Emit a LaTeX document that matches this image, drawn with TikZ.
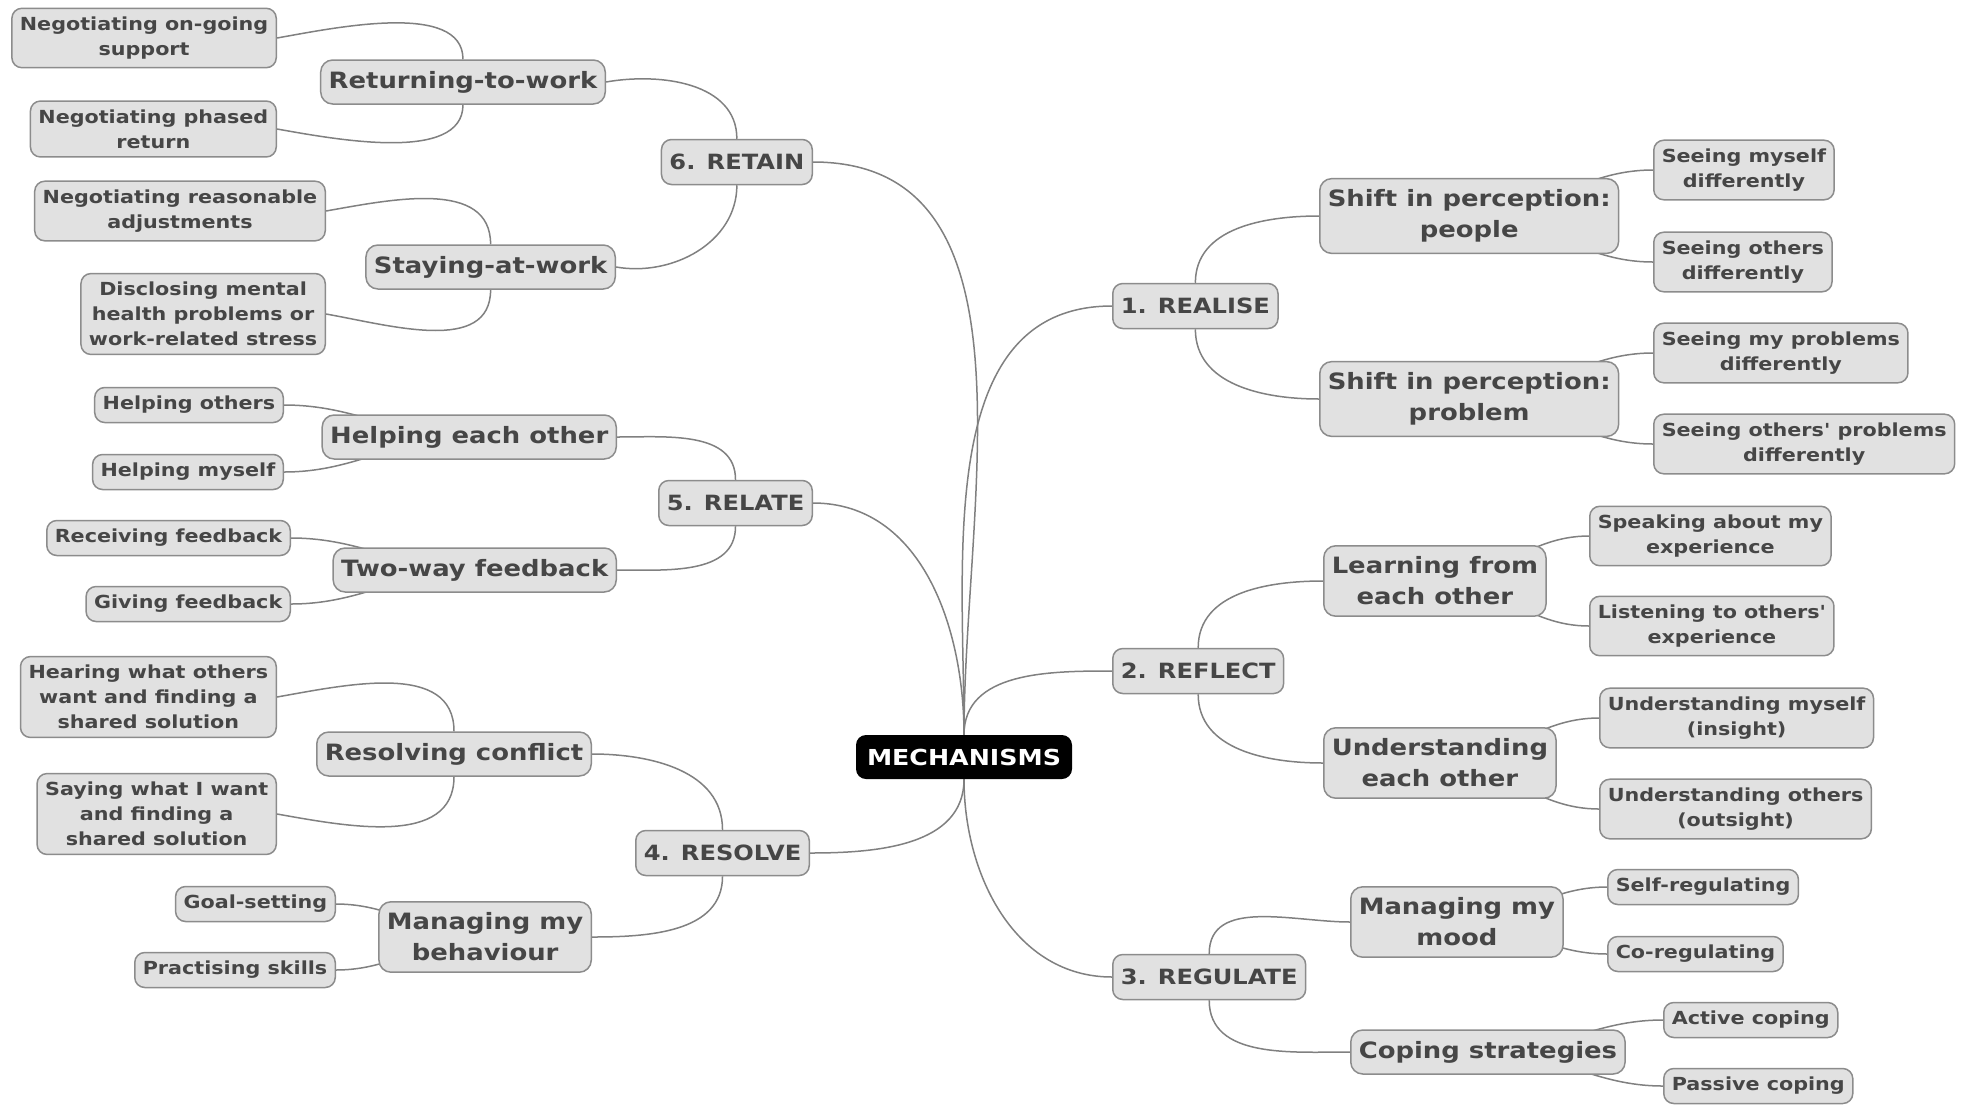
\documentclass[tikz,border=0pt]{standalone}
\usepackage{fontspec}
\setmainfont{DejaVu Sans}[FakeStretch=1.15, Ligatures=TeXOff]
\usetikzlibrary{backgrounds}
\definecolor{boxgray}{RGB}{225,225,225}
\definecolor{edgegray}{RGB}{140,140,140}
\definecolor{textgray}{RGB}{70,70,70}
\definecolor{linkgray}{RGB}{128,128,128}

\begin{document}
\begin{tikzpicture}[x=1pt, y=1pt,
    root/.style={fill=black, text=white, rounded corners=10pt, inner xsep=11pt, minimum height=44pt, font=\fontsize{22}{26}\selectfont\bfseries},
    branch/.style={draw=edgegray, line width=1.5pt, fill=boxgray, text=textgray, rounded corners=10pt, inner xsep=8pt, minimum height=45pt, font=\fontsize{21}{28}\selectfont\bfseries},
    topic/.style={draw=edgegray, line width=1.5pt, fill=boxgray, text=textgray, rounded corners=12pt, align=center, inner xsep=8pt, inner ysep=11pt, minimum height=44pt, font=\fontsize{22.5}{31}\selectfont\bfseries},
    leaf/.style={draw=edgegray, line width=1.5pt, fill=boxgray, text=textgray, rounded corners=10pt, align=center, inner xsep=8pt, inner ysep=8.5pt, minimum height=35pt, font=\fontsize{18}{25}\selectfont\bfseries},
    link/.style={draw=linkgray, line width=1.5pt}]

        \useasboundingbox (0,0) rectangle (1968,-1104);

        % Centre
        \node[root] (main) at (964,-757) {MECHANISMS};

        % Mechanisms
        \node[branch, anchor=west] (realise) at (1112,-306) {1. REALISE};
        \node[branch, anchor=west] (reflect) at (1112,-671) {2. REFLECT};
        \node[branch, anchor=west] (regulate) at (1112,-977) {3. REGULATE};
        \node[branch, anchor=east] (resolve) at (810,-853) {4. RESOLVE};
        \node[branch, anchor=east] (relate) at (813,-503) {5. RELATE};
        \node[branch, anchor=east] (retain) at (813,-162) {6. RETAIN};

        % Right topics
        \node[topic, anchor=west] (people) at (1319,-216) {Shift in perception:\\people};
        \node[topic, anchor=west] (problem) at (1319,-399) {Shift in perception:\\problem};
        \node[topic, anchor=west] (learning) at (1323,-581) {Learning from\\each other};
        \node[topic, anchor=west] (understanding) at (1323,-763) {Understanding\\each other};
        \node[topic, anchor=west] (mood) at (1350,-922) {Managing my\\mood};
        \node[topic, anchor=west] (coping) at (1350,-1052) {Coping strategies};

        % Left topics
        \node[topic, anchor=east] (returning) at (606,-82) {Returning-to-work};
        \node[topic, anchor=east] (staying) at (616,-267) {Staying-at-work};
        \node[topic, anchor=east] (helping) at (617,-437) {Helping each other};
        \node[topic, anchor=east] (feedback) at (617,-570) {Two-way feedback};
        \node[topic, anchor=east] (conflict) at (592,-754) {Resolving conflict};
        \node[topic, anchor=east] (behaviour) at (592,-937) {Managing my\\behaviour};

        % Right leaves
        \node[leaf, anchor=west] (myself) at (1653,-170) {Seeing myself\\differently};
        \node[leaf, anchor=west] (others) at (1653,-262) {Seeing others\\differently};
        \node[leaf, anchor=west] (myproblems) at (1653,-353) {Seeing my problems\\differently};
        \node[leaf, anchor=west] (otherproblems) at (1653,-444) {Seeing others' problems\\differently};
        \node[leaf, anchor=west] (speaking) at (1589,-536) {Speaking about my\\experience};
        \node[leaf, anchor=west] (listening) at (1589,-626) {Listening to others'\\experience};
        \node[leaf, anchor=west] (insight) at (1599,-718) {Understanding myself\\(insight)};
        \node[leaf, anchor=west] (outsight) at (1599,-809) {Understanding others\\(outsight)};
        \node[leaf, anchor=west] (selfreg) at (1607,-887) {Self-regulating};
        \node[leaf, anchor=west] (coreg) at (1607,-954) {Co-regulating};
        \node[leaf, anchor=west] (active) at (1663,-1020) {Active coping};
        \node[leaf, anchor=west] (passive) at (1663,-1086) {Passive coping};

        % Left leaves
        \node[leaf, anchor=east] (ongoing) at (277,-38) {Negotiating on-going\\support};
        \node[leaf, anchor=east] (phased) at (277,-129) {Negotiating phased\\return};
        \node[leaf, anchor=east] (adjust) at (326,-211) {Negotiating reasonable\\adjustments};
        \node[leaf, anchor=east] (disclose) at (326,-314) {Disclosing mental\\health problems or\\work-related stress};
        \node[leaf, anchor=east] (helpothers) at (284,-405) {Helping others};
        \node[leaf, anchor=east] (helpmyself) at (284,-472) {Helping myself};
        \node[leaf, anchor=east] (receiving) at (291,-538) {Receiving feedback};
        \node[leaf, anchor=east] (giving) at (291,-604) {Giving feedback};
        \node[leaf, anchor=east] (hearing) at (277,-697) {Hearing what others\\want and finding a\\shared solution};
        \node[leaf, anchor=east] (saying) at (277,-814) {Saying what I want\\and finding a\\shared solution};
        \node[leaf, anchor=east] (goals) at (336,-904) {Goal-setting};
        \node[leaf, anchor=east] (practise) at (336,-970) {Practising skills};

        \begin{scope}[on background layer]
        % Canvas
        \fill[white] (0,0) rectangle (1968,-1104);

        % Centre to mechanisms
        \draw[link] (main.north) to[out=90,in=180] (realise.west);
        \draw[link] (main.north) to[out=90,in=180] (reflect.west);
        \draw[link] (main.south) to[out=270,in=180] (regulate.west);
        \draw[link] (main.south) to[out=270,in=0] (resolve.east);
        \draw[link] (main.north) to[out=90,in=0] (relate.east);
        \draw[link] (main.north) to[out=90,in=0] (retain.east);

        % Mechanisms to topics
        \draw[link] (realise.north) to[out=90,in=180] (people.west);
        \draw[link] (realise.south) to[out=270,in=180] (problem.west);
        \draw[link] (reflect.north) to[out=90,in=180] (learning.west);
        \draw[link] (reflect.south) to[out=270,in=180] (understanding.west);
        \draw[link] (regulate.north) to[out=90,in=180] (mood.west);
        \draw[link] (regulate.south) to[out=270,in=180] (coping.west);
        \draw[link] (resolve.north) to[out=90,in=0] (conflict.east);
        \draw[link] (resolve.south) to[out=270,in=0] (behaviour.east);
        \draw[link] (relate.north) to[out=90,in=0] (helping.east);
        \draw[link] (relate.south) to[out=270,in=0] (feedback.east);
        \draw[link] (retain.north) to[out=90,in=10] (returning.east);
        \draw[link] (retain.south) to[out=270,in=-10] (staying.east);

        % Topics to leaves, right
        \draw[link] (people.center) to[out=0,in=180] (myself.west);
        \draw[link] (people.center) to[out=0,in=180] (others.west);
        \draw[link] (problem.center) to[out=0,in=180] (myproblems.west);
        \draw[link] (problem.center) to[out=0,in=180] (otherproblems.west);
        \draw[link] (learning.center) to[out=0,in=180] (speaking.west);
        \draw[link] (learning.center) to[out=0,in=180] (listening.west);
        \draw[link] (understanding.center) to[out=0,in=180] (insight.west);
        \draw[link] (understanding.center) to[out=0,in=180] (outsight.west);
        \draw[link] (mood.center) to[out=0,in=180] (selfreg.west);
        \draw[link] (mood.center) to[out=0,in=180] (coreg.west);
        \draw[link] (coping.center) to[out=0,in=180] (active.west);
        \draw[link] (coping.center) to[out=0,in=180] (passive.west);

        % Topics to leaves, left
        \draw[link] (returning.north) to[out=90,in=10,looseness=0.8] (ongoing.east);
        \draw[link] (returning.south) to[out=270,in=-10,looseness=0.8] (phased.east);
        \draw[link] (staying.north) to[out=90,in=10] (adjust.east);
        \draw[link] (staying.south) to[out=270,in=-10] (disclose.east);
        \draw[link] (helping.center) to[out=180,in=0] (helpothers.east);
        \draw[link] (helping.center) to[out=180,in=0] (helpmyself.east);
        \draw[link] (feedback.center) to[out=180,in=0] (receiving.east);
        \draw[link] (feedback.center) to[out=180,in=0] (giving.east);
        \draw[link] (conflict.north) to[out=90,in=10] (hearing.east);
        \draw[link] (conflict.south) to[out=270,in=-10] (saying.east);
        \draw[link] (behaviour.center) to[out=180,in=0] (goals.east);
        \draw[link] (behaviour.center) to[out=180,in=0] (practise.east);
        \end{scope}
\end{tikzpicture}
\end{document}
